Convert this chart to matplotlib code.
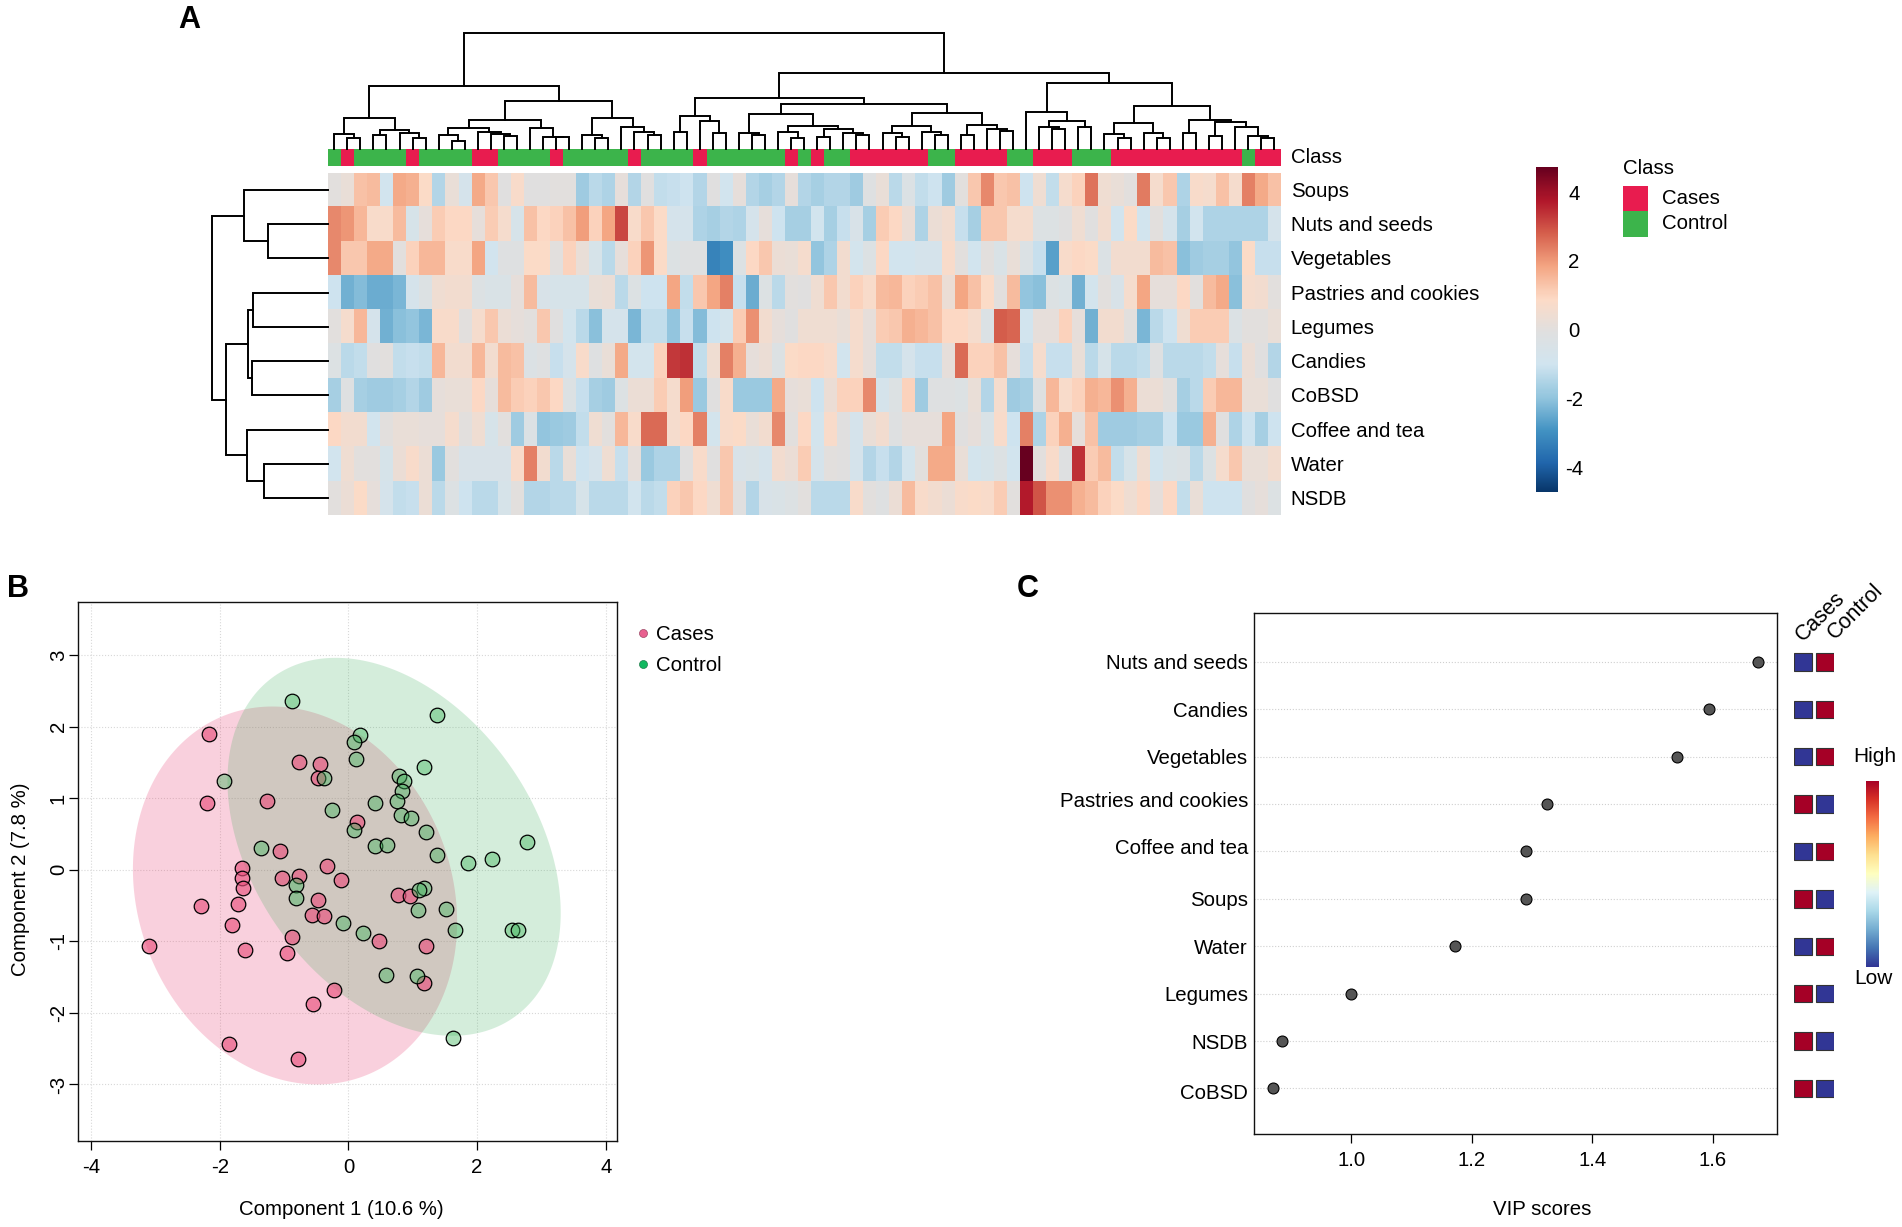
import numpy as np
import matplotlib
matplotlib.use("Agg")
import matplotlib.pyplot as plt
from matplotlib.colors import LinearSegmentedColormap, ListedColormap, to_rgba
from matplotlib.lines import Line2D
from matplotlib.patches import Rectangle
from matplotlib.transforms import ScaledTranslation

plt.rcParams['font.family'] = ['Liberation Sans', 'DejaVu Sans']
plt.rcParams['axes.unicode_minus'] = False

W, H = 1902, 1227

# Heatmap rows, top to bottom
row_names = ["Soups", "Nuts and seeds", "Vegetables", "Pastries and cookies", "Legumes",
             "Candies", "CoBSD", "Coffee and tea", "Water", "NSDB"]

soups = [.1, .3, 1.4, 1.5, -.9, 1.8, 1.7, .9, -1.4, .3,
         -.7, 1.8, 1.3, 0, .8, 0, 0, .1, .1, -1.7,
         -1.3, -1.5, .2, -1.4, 0, -1.2, -1.1, -1.0, -1.4, 0,
         -.9, .2, -1.4, -1.6, -1.4, .2, -1.4, -1.6, -1.4, -1.4,
         -1.7, -.1, .3, -1.3, -.3, -1.2, -1.0, -1.7, .1, 1.3,
         2.3, 1.3, 1.4, -1.0, .5, -1.2, .7, 1.1, 2.6, .5,
         .3, .1, 2.5, .7, 1.3, -1.5, .8, .7, 1.4, .7,
         2.4, 1.8, 1.4]
nuts = [2.3, 2.1, 1.6, .8, .8, 1.5, -.6, .2, 1.2, 1.0,
        1.0, .2, 1.2, .7, -.6, 1.4, 1.0, 1.1, 1.4, 2.0,
        1.1, 1.9, 3.2, .8, 1.3, .9, -.7, -.7, -1.5, -1.6,
        -1.4, -1.5, -.7, .2, -1.0, -1.6, -1.6, -.9, -1.6, -1.1,
        -.5, -1.6, 1.2, 1.0, .4, -1.5, .4, .6, -1.1, -1.6,
        1.3, 1.3, .7, .7, -.2, -.2, 0, .5, 0, .6,
        -.9, .9, -.9, .1, -.7, -1.6, -.9, -1.5, -1.5, -1.5,
        -1.5, -1.5, -.7]
vegetables = [2.3, 1.3, 1.3, 1.8, 1.8, .1, 1.1, 1.6, 1.6, .8,
              .8, 1.9, -.9, -.1, -.1, .9, .9, .1, 1.1, .3,
              -.6, -1.3, .2, 1.1, 2.1, .9, -.2, -.1, -.1, -3.2,
              -3.0, -.2, 1.0, 1.3, .4, .3, .7, -1.9, -1.5, .6,
              -.8, -.2, 1.0, -.9, -.9, -.7, -.7, .8, .1, -.9,
              .1, -.4, .3, -.3, -1.1, -2.6, .8, 1.0, .9, -.3,
              .6, .6, .6, 1.5, 1.4, -2.0, -1.7, -1.6, -1.6, -1.9,
              .9, -1.1, -1.1]
pastries = [-1.0, -2.3, -2.1, -2.4, -2.4, -2.2, -.7, -.2, .5, .6,
            .6, -.2, -.4, -.4, .2, 1.5, -.5, -.6, -.6, -.6,
            .3, .4, -1.3, -.2, -1.0, -1.0, 1.9, -1.2, 1.3, 1.9,
            2.4, -1.1, -2.4, -.2, -1.3, .1, 0, .5, 1.3, .6,
            1.1, .8, 1.5, 1.6, 1.1, 1.2, 1.4, .4, 1.9, 1.4,
            .9, .1, 1.5, -1.9, -2.0, -.2, -.4, -2.3, -.8, .1,
            -.5, .7, 1.9, .2, .2, 1.0, .1, 1.5, 1.8, -2.0,
            .7, .6, .1]
legumes = [.1, .7, 1.6, -.7, -2.3, -2.0, -1.9, -2.2, .8, .8,
           .1, .7, 1.3, .4, .2, .1, 1.3, 0, -.8, -1.3,
           -2.0, -.7, -.7, -2.2, -1.2, -1.2, -1.9, -1.1, -2.1, -1.0,
           -.8, 1.2, 2.2, .6, .2, 0, .5, .5, .5, .3,
           .7, .2, 1.2, 1.3, 1.7, 1.6, 1.4, 1.0, 1.0, .7,
           -.3, 2.9, 2.8, -.9, .2, .2, 1.1, .2, -2.3, .6,
           .6, .1, -2.2, -1.3, -1.0, .5, 1.2, 1.2, 1.2, -.3,
           .1, .1, .3]
candies = [-.2, -1.3, -1.2, 0, .1, -1.2, -1.1, -1.2, 1.6, .6,
           .6, 1.6, .6, 1.5, 1.4, -.3, -.1, -1.1, -.7, .8,
           -.1, .3, 1.8, -.8, -.8, 1.1, 3.4, 3.5, -1.2, .5,
           2.4, 1.7, .2, .4, -.2, .9, 1.0, 1.0, .8, -.9,
           .7, .2, -1.2, -1.2, -.7, -1.1, -1.1, .2, 2.7, 1.1,
           1.1, 1.4, .2, -1.1, .7, -1.1, -1.1, .3, -1.3, -.6,
           -1.3, -1.3, -1.2, -.1, -1.3, -1.3, -1.3, -1.2, .2, -1.1,
           .4, 0, -1.4]
cobsd = [-1.6, -.1, -1.6, -1.7, -1.7, -1.6, -1.4, -1.7, .2, .3,
         .3, 1.0, .2, 1.5, 1.2, 1.1, 1.3, 1.0, -.2, -1.1,
         -1.6, -1.7, -.2, .4, .4, 1.2, .7, 2.0, -1.8, 0,
         .8, -1.8, -1.8, -1.8, 1.8, .2, .3, -1.0, .4, 1.1,
         1.1, 2.3, -.7, -.2, 1.1, -1.7, -.1, -.1, -.2, .3,
         -1.4, .7, -1.7, -1.6, -.1, 1.6, .8, 1.1, 1.7, 1.6,
         2.2, 1.7, .4, .4, .1, -1.6, -1.3, 1.2, 1.6, 1.6,
         .3, .3, 0]
coffee = [1.0, .6, .6, -.9, .1, .3, .3, .2, .2, .7,
          .1, .5, -.6, .1, -1.7, -.3, -1.9, -1.8, -1.7, -1.2,
          .5, .1, 1.6, .8, 2.7, 2.7, .7, 1.0, 2.4, -.8,
          .8, .9, .3, .6, 2.3, .1, 1.0, -.8, .8, 0,
          -.7, .3, .6, -.1, .2, .2, .2, 1.9, 0, .2,
          -.4, .8, -1.0, 2.4, -1.5, 1.1, 1.7, .2, 1.4, -1.7,
          -1.7, -1.7, -1.6, -1.6, -1.0, -1.8, -1.8, 1.7, 0, -1.5,
          -1.0, -1.6, -1.0]
water = [-.9, .5, .1, .1, -.6, .4, .8, .4, -1.8, .1,
         -.5, -.5, -.5, -.5, .8, 2.4, .6, -1.3, .3, -1.0,
         -.7, .5, -1.1, .2, -1.8, -1.5, -1.5, 0, .8, 0,
         1.3, -.5, -.4, -.7, .6, .4, 1.2, -.7, .1, 0,
         -.7, -1.4, -1.1, -1.4, -.8, .1, 1.8, 1.8, .3, -.8,
         -.6, -.2, -.9, 4.8, .1, .8, -.1, 3.5, 1.2, 1.5,
         -1.2, -.6, .5, -.9, -.4, -.3, -1.3, -.2, .7, 1.3,
         .3, .3, .6]
nsdb = [.1, .4, .9, .2, -.7, -1.2, -1.1, .4, -1.3, -.2,
        -1.0, -1.3, -1.3, -.6, .1, -1.4, -1.4, -1.3, -1.3, -.6,
        -1.3, -1.3, -1.3, -.9, -1.3, -1.2, 1.1, 1.3, 1.0, .5,
        1.3, 0, -1.4, -.5, -.4, -.2, .1, -1.3, -1.3, -1.3,
        .8, .1, -.1, .4, 1.5, .8, .6, .4, .8, .9,
        .8, 1.2, .1, 3.8, 3.0, 2.2, 2.2, 1.7, 1.5, 1.1,
        .9, .5, 1.0, .2, 1.0, -1.2, .3, -1.0, -1.0, -1.0,
        0, .2, -.2]

# 0 = Cases, 1 = Control
sample_class = [1, 0, 1, 1, 1, 1, 0, 1, 1, 1, 1, 0, 0, 1, 1, 1, 1, 0, 1, 1, 1, 1, 1, 0, 1,
                1, 1, 1, 0, 1, 1, 1, 1, 1, 1, 0, 1, 0, 1, 1, 0, 0, 0, 0, 0, 0, 1, 1,
                0, 0, 0, 0, 1, 1, 0, 0, 0, 1, 1, 1, 0, 0, 0, 0, 0, 0, 0, 0, 0, 0, 1, 0, 0]

# Dendrograms as (height, left, right), integers are leaves
block1 = (90, (43, 0, (32, 1, 2)), (53, (39, 3, 4), (47, 5, (32, 6, 7))))
block2 = (83, (61, (41, 8, (21, 9, 10)), (49, 11, (44, 12, (37, 13, 14)))),
          (61, 15, (35, 16, (33, 17, 18))))
block3 = (91, (41, 19, (30, 20, 21)), (62, 22, (49, 23, (39, 24, 25))))
block4 = (97, (49, 26, 27), (82, 28, (45, 29, 30)))
block5 = (102, (45, 31, (41, 32, 33)),
          (67, (49, 34, (30, 35, 36)), (57, (35, 37, 38), (45, 39, (39, 40, 41)))))
block6 = (105, (65, (47, 42, (35, 43, 44)), (49, 45, (40, 46, 47))),
          (70, (39, 48, 49), (57, 50, (52, 51, 52))))
block7 = (106, 53, (82, (62, 54, (57, 55, 56)), (64, 57, 58)))
block8 = (125, (75, (44, 59, (32, 60, 61)), (47, 62, (32, 63, 64))),
          (85, (45, 65, 66), (77, (37, 67, 68), (62, 69, (37, 70, (30, 71, 72))))))
col_tree = (340, (185, block1, (139, block2, block3)),
            (222, (149, block4, (132, block5, block6)), (192, block7, block8)))
row_tree = (324, (234, 0, (166, 1, 2)),
            (286, (224, (209, 3, 4), (211, 5, 6)), (225, 7, (179, 8, 9))))

# Panel B scores
cases_x = [-2.16, -2.20, -1.26, -0.77, -0.44, -0.48, 0.14, -1.06, -1.65, -1.66, -1.64, -2.29,
           -1.72, -1.81, -1.60, -3.10, -1.03, -0.77, -0.33, -0.11, -0.47, -0.56, -0.38, -0.87,
           -0.95, 0.48, 0.77, 0.96, 1.20, 1.17, -0.23, -0.55, -1.85, -0.78]
cases_y = [1.90, 0.93, 0.96, 1.51, 1.48, 1.28, 0.67, 0.26, 0.03, -0.12, -0.25, -0.50,
           -0.48, -0.77, -1.12, -1.06, -0.12, -0.09, 0.05, -0.15, -0.43, -0.63, -0.64, -0.94,
           -1.16, -0.99, -0.35, -0.37, -1.07, -1.58, -1.68, -1.88, -2.44, -2.64]
control_x = [-0.88, 1.38, 0.18, 0.08, 0.12, 1.18, -1.93, -0.38, 0.79, 0.87, 0.84, 0.75, 0.41,
             -0.26, 0.81, 0.98, 0.08, 1.20, 0.41, 0.60, -1.36, 1.37, 1.86, 2.23, 2.78, -0.82,
             -0.82, 1.18, 1.10, 1.08, 1.52, -0.09, 0.23, 1.66, 2.54, 2.63, 0.58, 1.07, 1.63]
control_y = [2.36, 2.16, 1.88, 1.78, 1.54, 1.43, 1.24, 1.28, 1.31, 1.24, 1.10, 0.96, 0.93,
             0.84, 0.76, 0.72, 0.55, 0.53, 0.33, 0.34, 0.30, 0.20, 0.10, 0.15, 0.39, -0.21,
             -0.39, -0.26, -0.29, -0.56, -0.55, -0.74, -0.89, -0.84, -0.84, -0.84, -1.47,
             -1.48, -2.35]
# centre x, centre y, half width, half height, correlation
cases_ellipse = (-0.83, -0.36, 2.52, 2.64, -0.14)
control_ellipse = (0.71, 0.32, 2.59, 2.64, -0.35)

# Panel C
vip_names = ["Nuts and seeds", "Candies", "Vegetables", "Pastries and cookies", "Coffee and tea",
             "Soups", "Water", "Legumes", "NSDB", "CoBSD"]
vip_scores = [1.674, 1.593, 1.54, 1.325, 1.29, 1.29, 1.173, 1.0, 0.885, 0.87]
vip_label_nudge = [0, 0, 0, 5, 5, 0, 0, 0, 0, -3]
cases_high = [0, 0, 0, 1, 0, 1, 0, 1, 1, 1]
control_high = [1, 1, 1, 0, 1, 0, 1, 0, 0, 0]

CASE_RED = "#E81C4F"
CONTROL_GREEN = "#3CB44B"
FS = 14.7

heat_cmap = LinearSegmentedColormap.from_list("heat", [
    "#053061", "#2166AC", "#4393C3", "#92C5DE", "#D1E5F0", "#E0E0E0",
    "#FDDBC7", "#F4A582", "#D6604D", "#B2182B", "#67001F"])

fig = plt.figure(figsize=(W / 100, H / 100), dpi=100)


def px_axes(left, top, right, bottom):
    return fig.add_axes([left / W, 1 - bottom / H, (right - left) / W, (bottom - top) / H])


def px_text(x, y, s, **kw):
    kw.setdefault("fontsize", FS)
    kw.setdefault("va", "center")
    return fig.text(x / W, 1 - y / H, s, **kw)


def tree_lines(node, out):
    if isinstance(node, int):
        return node + 0.5, 0
    h, a, b = node
    pa, ha = tree_lines(a, out)
    pb, hb = tree_lines(b, out)
    out.append(([pa, pa, pb, pb], [ha, h, h, hb]))
    return (pa + pb) / 2, h


# Panel A
heat = np.array([soups, nuts, vegetables, pastries, legumes, candies, cobsd, coffee, water, nsdb])
n_rows, n_cols = heat.shape
HL, HR, HT, HB = 327.7, 1280.7, 172.7, 515.3

ax = px_axes(HL, HT, HR, HB)
ax.imshow(heat, cmap=heat_cmap, vmin=-4.8, vmax=4.8, aspect="auto", interpolation="nearest",
          extent=(0, n_cols, n_rows, 0))
ax.axis("off")

ax = px_axes(HL, 148.5, HR, 166.3)
ax.imshow([sample_class], cmap=ListedColormap([CASE_RED, CONTROL_GREEN]), aspect="auto",
          interpolation="nearest", extent=(0, n_cols, 1, 0))
ax.axis("off")

ax = px_axes(HL, 33, HR, 148.5)
segments = []
tree_lines(col_tree, segments)
for xs, ys in segments:
    ax.plot(xs, ys, color="black", lw=1.4, solid_joinstyle="miter", clip_on=False)
ax.set_xlim(0, n_cols)
ax.set_ylim(0, 340)
ax.axis("off")

ax = px_axes(HL - 115.7, HT, HL, HB)
segments = []
tree_lines(row_tree, segments)
for ys, xs in segments:
    ax.plot(xs, ys, color="black", lw=1.4, solid_joinstyle="miter", clip_on=False)
ax.set_xlim(324, 0)
ax.set_ylim(n_rows, 0)
ax.axis("off")

row_h = (HB - HT) / n_rows
for i, name in enumerate(row_names):
    px_text(1290.6, HT + (i + 0.5) * row_h + 1.5, name)
px_text(1290.6, 157.5, "Class")

# heat colour bar
cax = px_axes(1536, 167, 1557.3, 491.7)
cax.imshow(np.linspace(4.79, -4.65, 256)[:, None], cmap=heat_cmap, vmin=-4.8, vmax=4.8,
           aspect="auto", extent=(0, 1, -4.65, 4.79))
cax.set_xticks([])
cax.set_yticks([])
for s in cax.spines.values():
    s.set_visible(False)
for v in [4, 2, 0, -2, -4]:
    cax.annotate(str(v), (1, v), xycoords=("axes fraction", "data"), xytext=(12, 0),
                 textcoords="offset points", ha="center", va="center", fontsize=FS)

px_text(1623.5, 169, "Class")
for y0, color in zip([185.7, 211.3], [CASE_RED, CONTROL_GREEN]):
    fig.add_artist(Rectangle((1622.7 / W, 1 - (y0 + 25.2) / H), 25.6 / W, 25.2 / H,
                             transform=fig.transFigure, fc=color, ec="none"))
px_text(1662.3, 199, "Cases")
px_text(1662.3, 224, "Control")

# Panel B
ax = px_axes(77.6, 602, 617.3, 1141)
ax.set_xlim(-4.21, 4.18)
ax.set_ylim(-3.79, 3.74)
ax.set_axisbelow(True)
ax.grid(True, color="#d8d8d8", lw=0.8, ls=":")
ax.set_xticks([-4, -2, 0, 2, 4])
ax.set_yticks([-3, -2, -1, 0, 1, 2, 3])
ax.tick_params(axis="x", length=6.5, width=0.9, labelsize=FS, pad=5.5)
ax.tick_params(axis="y", length=6.5, width=0.9, labelsize=FS, pad=0.5)
for lab in ax.get_yticklabels():
    lab.set_rotation(90)
    lab.set_va("center")
for s in ax.spines.values():
    s.set_linewidth(1.0)
    s.set_color("#111111")

t = np.linspace(0, 2 * np.pi, 361)
for (cx, cy, wx, wy, rho), color, alpha in zip([cases_ellipse, control_ellipse],
                                               ["#E8386D", "#2CA84F"], [0.23, 0.2]):
    ax.fill(cx + wx * np.cos(t), cy + wy * np.cos(t + np.arccos(rho)), color=color, alpha=alpha,
            lw=0)
ax.scatter(cases_x, cases_y, s=110, fc=to_rgba("#E9527F", 0.65), ec="black", lw=0.9, zorder=3)
ax.scatter(control_x, control_y, s=110, fc=to_rgba("#3CB45A", 0.42), ec="black", lw=0.9, zorder=3)

handles = [Line2D([], [], ls="", marker="o", ms=5.8, mfc="#E8608F", mec="#8a3050", mew=0.4),
           Line2D([], [], ls="", marker="o", ms=5.8, mfc="#12B860", mec="#0c6a38", mew=0.4)]
fig.legend(handles, ["Cases", "Control"], loc="upper left",
           bbox_to_anchor=(628 / W, 1 - 625.5 / H), frameon=False, fontsize=FS, borderpad=0,
           borderaxespad=0, labelspacing=0.58, handletextpad=-0.15, handlelength=1.5)

px_text(341, 1209.5, "Component 1 (10.6 %)", ha="center")
px_text(21, 879, "Component 2 (7.8 %)", ha="center", rotation=90)

# Panel C
ax = px_axes(1254, 612.6, 1777, 1134)
ax.set_xlim(0.839, 1.706)
ax.set_ylim(0.04, 11.04)
ypos = np.arange(10, 0, -1)
ax.set_axisbelow(True)
ax.hlines(ypos, 0.839, 1.706, color="#cfcfcf", lw=0.8, ls=":")
ax.scatter(vip_scores, ypos, s=62, fc="#555555", ec="black", lw=0.8, zorder=3)
ax.set_xticks([1.0, 1.2, 1.4, 1.6])
ax.set_xticklabels(["1.0", "1.2", "1.4", "1.6"])
ax.set_yticks(ypos)
ax.set_yticklabels(vip_names)
ax.tick_params(axis="x", length=6.5, width=0.9, labelsize=FS, pad=5.5)
ax.tick_params(axis="y", length=0, labelsize=FS, pad=4.4)
for lab, nudge in zip(ax.get_yticklabels(), vip_label_nudge):
    lab.set_transform(lab.get_transform() + ScaledTranslation(0, nudge / 100, fig.dpi_scale_trans))
for s in ax.spines.values():
    s.set_linewidth(1.0)
    s.set_color("#111111")

px_text(1542, 1209.5, "VIP scores", ha="center")

# class mean squares next to panel C
ax2 = px_axes(1794, 612.6, 1833.7, 1134)
ax2.set_xlim(0, 39.7)
ax2.set_ylim(0.04, 11.04)
ax2.axis("off")
low_high = {0: "#313695", 1: "#A50026"}
for y, a, b in zip(ypos, cases_high, control_high):
    ax2.add_patch(Rectangle((0, y - 0.185), 18, 0.37, fc=low_high[a], ec="#333333", lw=0.8))
    ax2.add_patch(Rectangle((21.7, y - 0.185), 18, 0.37, fc=low_high[b], ec="#333333", lw=0.8))

px_text(1806, 645.5, "Cases", rotation=45, rotation_mode="anchor", ha="left", va="bottom", fontsize=15.5)
px_text(1838, 644, "Control", rotation=45, rotation_mode="anchor", ha="left", va="bottom", fontsize=15.5)

cax = px_axes(1865.7, 780.7, 1878, 967)
cax.imshow(np.linspace(1, 0, 256)[:, None], cmap="RdYlBu_r", aspect="auto")
cax.axis("off")
px_text(1875, 757, "High", ha="center", fontsize=15)
px_text(1873, 978, "Low", ha="center", fontsize=15)

# Panel letters
px_text(189, 20, "A", ha="center", fontweight="bold", fontsize=22)
px_text(18, 589, "B", ha="center", fontweight="bold", fontsize=22)
px_text(1027.5, 589, "C", ha="center", fontweight="bold", fontsize=22)

fig.savefig("out.png", dpi=100)
